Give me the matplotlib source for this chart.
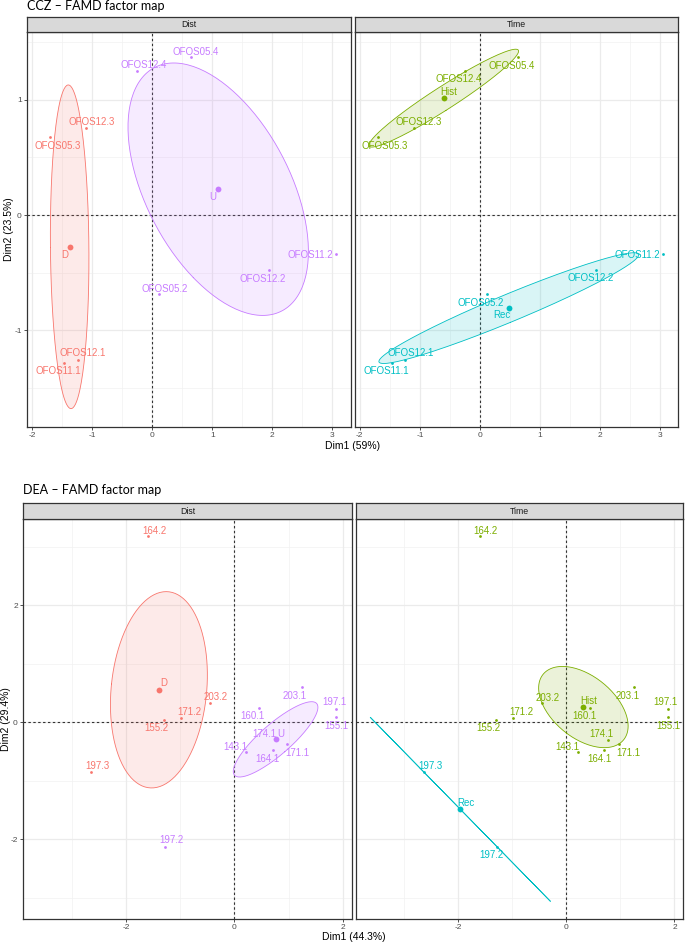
import numpy as np
import matplotlib
matplotlib.use("Agg")
import matplotlib.pyplot as plt

# ---------------- data ----------------
ccz_labels = ["OFOS05.4", "OFOS12.4", "OFOS12.3", "OFOS05.3", "OFOS11.2",
              "OFOS12.2", "OFOS05.2", "OFOS12.1", "OFOS11.1"]
ccz_dim1 = [0.639, -0.255, -1.098, -1.697, 3.052, 1.937, 0.116, -1.241, -1.464]
ccz_dim2 = [1.367, 1.250, 0.754, 0.679, -0.338, -0.474, -0.687, -1.254, -1.280]
ccz_dist = ["U", "U", "D", "D", "U", "U", "U", "D", "D"]
ccz_time = ["Hist", "Hist", "Hist", "Hist", "Rec", "Rec", "Rec", "Rec", "Rec"]

dea_labels = ["164.2", "203.2", "171.2", "155.2", "197.3", "203.1", "160.1",
              "197.1", "155.1", "174.1", "171.1", "164.1", "143.1", "197.2"]
dea_dim1 = [-1.595, -0.446, -0.977, -1.297, -2.636, 1.247, 0.449,
            1.874, 1.880, 0.772, 0.975, 0.707, 0.221, -1.276]
dea_dim2 = [3.18, 0.330, 0.080, 0.034, -0.845, 0.598, 0.251,
            0.234, 0.091, -0.299, -0.379, -0.476, -0.513, -2.13]
dea_dist = ["D", "D", "D", "D", "D", "U", "U", "U", "U", "U", "U", "U", "U", "U"]
dea_time = ["Hist", "Hist", "Hist", "Hist", "Rec", "Hist", "Hist",
            "Hist", "Hist", "Hist", "Hist", "Hist", "Hist", "Rec"]

group_colors = {"D": "#F8766D", "U": "#C77CFF", "Hist": "#7CAE00", "Rec": "#00BFC4"}

# label offsets (pixels: right, down) for repelled text
off_ccz_dist = {"OFOS05.4": (5.3, -5), "OFOS12.4": (6.3, -5.7), "OFOS12.3": (5.3, -5.7),
                "OFOS05.3": (7, 9), "OFOS11.2": (-25.7, 1), "OFOS12.2": (-6, 9.3),
                "OFOS05.2": (5.3, -5.7), "OFOS12.1": (5, -6.7), "OFOS11.1": (-6, 8),
                "D": (-5.3, 8), "U": (-5.7, 7.3)}
off_ccz_time = {"OFOS05.4": (-6.7, 9), "OFOS12.4": (-6.3, 8.3), "OFOS12.3": (5, -5.7),
                "OFOS05.3": (6.7, 9), "OFOS11.2": (-26, 1), "OFOS12.2": (-6, 8.7),
                "OFOS05.2": (-6.3, 8.7), "OFOS12.1": (5.3, -6.3), "OFOS11.1": (-5.7, 8),
                "Hist": (5.3, -5.7), "Rec": (-6.7, 7.3)}
off_dea_dist = {"164.2": (6.3, -5.7), "203.2": (6, -5.7), "171.2": (8, -5.7),
                "155.2": (-7.3, 8), "197.3": (5.7, -5.7), "203.1": (-7, 9),
                "160.1": (-6, 8.3), "197.1": (-1.3, -6.3), "155.1": (-0.3, 9.3),
                "174.1": (-11.5, -5.7), "171.1": (10, 8.3), "164.1": (-5.3, 8.7),
                "143.1": (-11.3, -5.7), "197.2": (6, -6.7), "D": (4.7, -7), "U": (5.5, -5.7)}
off_dea_time = {"164.2": (5.7, -5.7), "203.2": (5.7, -5.3), "171.2": (8.3, -5.7),
                "155.2": (-8, 8), "197.3": (7.3, -5.7), "203.1": (-6.3, 8.3),
                "160.1": (-5.7, 8.3), "197.1": (-2, -6.3), "155.1": (0, 9.3),
                "174.1": (-6.3, -6), "171.1": (9.3, 8.7), "164.1": (-5.3, 9),
                "143.1": (-10.7, -5.7), "197.2": (-5.3, 8), "Hist": (5.3, -5.7), "Rec": (6, -6)}

# ---------------- layout ----------------
W, H = 685, 944
fig = plt.figure(figsize=(W / 100, H / 100), dpi=100)
FONT = ["Liberation Sans", "DejaVu Sans"]
plt.rcParams["font.family"] = FONT


def rect(l, t, r, b):
    return [l / W, 1 - b / H, (r - l) / W, (b - t) / H]


CHI = np.sqrt(5.991)  # 95% chi-square, 2 dof


def conf_ellipse(x, y):
    x = np.asarray(x); y = np.asarray(y)
    n = len(x)
    cov = np.cov(x, y) / n
    vals, vecs = np.linalg.eigh(cov)
    vals = np.clip(vals, 0, None)
    t = np.linspace(0, 2 * np.pi, 200)
    circ = np.vstack([np.cos(t), np.sin(t)])
    pts = vecs @ (CHI * np.sqrt(vals)[:, None] * circ)
    return x.mean() + pts[0], y.mean() + pts[1]


def draw_panel(ax, labels, d1, d2, groups, order, offsets, xlim, ylim,
               xmaj, xmin_, ymaj, ymin_, show_y):
    ax.set_xlim(*xlim); ax.set_ylim(*ylim)
    for v in xmin_:
        ax.axvline(v, color="#F2F2F2", lw=0.5, zorder=0)
    for v in ymin_:
        ax.axhline(v, color="#F2F2F2", lw=0.5, zorder=0)
    for v in xmaj:
        ax.axvline(v, color="#EBEBEB", lw=0.9, zorder=0)
    for v in ymaj:
        ax.axhline(v, color="#EBEBEB", lw=0.9, zorder=0)
    ax.axvline(0, color="#333333", lw=0.8, ls=(0, (2.2, 2.2)), zorder=1)
    ax.axhline(0, color="#333333", lw=0.8, ls=(0, (2.2, 2.2)), zorder=1)
    d1 = np.asarray(d1); d2 = np.asarray(d2); groups = np.asarray(groups)
    for g in order:
        m = groups == g
        c = group_colors[g]
        ex, ey = conf_ellipse(d1[m], d2[m])
        ax.fill(ex, ey, facecolor=c, alpha=0.15, edgecolor="none", zorder=2)
        ax.plot(ex, ey, color=c, lw=0.6, zorder=3)
        ax.plot(d1[m], d2[m], "o", color=c, ms=2.0, mew=0, zorder=4)
        cx, cy = d1[m].mean(), d2[m].mean()
        ax.plot([cx], [cy], "o", color=c, ms=4.2, mew=0, zorder=5)
        ox, oy = offsets[g]
        ax.annotate(g, (cx, cy), xytext=(ox * 0.72, -oy * 0.72),
                    textcoords="offset points", ha="center", va="center",
                    color=c, fontsize=7, zorder=6)
        for lab, xx, yy in zip(np.asarray(labels)[m], d1[m], d2[m]):
            ox, oy = offsets[lab]
            ax.annotate(lab, (xx, yy), xytext=(ox * 0.72, -oy * 0.72),
                        textcoords="offset points", ha="center", va="center",
                        color=c, fontsize=7, zorder=6)
    ax.set_xticks(xmaj)
    ax.set_xticklabels([f"{v:g}" for v in xmaj])
    ax.tick_params(axis="both", colors="#333333", labelcolor="#4D4D4D",
                   labelsize=6, length=2.5, width=0.6, pad=1.5)
    if show_y:
        ax.set_yticks(ymaj)
        ax.set_yticklabels([f"{v:g}" for v in ymaj])
    else:
        ax.set_yticks([])
    for s in ax.spines.values():
        s.set_color("#333333"); s.set_linewidth(0.9)


def strip(l, t, r, b, text):
    sa = fig.add_axes(rect(l, t, r, b))
    sa.set_facecolor("#D9D9D9")
    sa.set_xticks([]); sa.set_yticks([])
    for s in sa.spines.values():
        s.set_color("#333333"); s.set_linewidth(0.9)
    sa.text(0.5, 0.5, text, ha="center", va="center", fontsize=6.3, color="#1A1A1A",
            transform=sa.transAxes)


# ---------------- top chart (CCZ) ----------------
fig.text(27 / W, 1 - 6.5 / H, "CCZ \u2013 FAMD factor map", fontsize=9,
         family=["Lato", "DejaVu Sans"], ha="left", va="center")
tx_lim = (-2.08, 3.30); ty_lim = (-1.834, 1.583)
tx_maj = [-2, -1, 0, 1, 2, 3]; tx_min = [-1.5, -0.5, 0.5, 1.5, 2.5]
ty_maj = [-1, 0, 1]; ty_min = [-1.5, -0.5, 0.5, 1.5]

ax1 = fig.add_axes(rect(27.3, 32.3, 350.5, 426.7))
draw_panel(ax1, ccz_labels, ccz_dim1, ccz_dim2, ccz_dist, ["D", "U"], off_ccz_dist,
           tx_lim, ty_lim, tx_maj, tx_min, ty_maj, ty_min, True)
ax2 = fig.add_axes(rect(355, 32.3, 678.3, 426.7))
draw_panel(ax2, ccz_labels, ccz_dim1, ccz_dim2, ccz_time, ["Hist", "Rec"], off_ccz_time,
           tx_lim, ty_lim, tx_maj, tx_min, ty_maj, ty_min, False)
strip(27.3, 16.7, 350.5, 32.3, "Dist")
strip(355, 16.7, 678.3, 32.3, "Time")
fig.text(353 / W, 1 - 446 / H, "Dim1 (59%)", fontsize=7.5, ha="center", va="center")
fig.text(9 / W, 1 - 229.5 / H, "Dim2 (23.5%)", fontsize=7.5, ha="center", va="center",
         rotation=90)

# ---------------- bottom chart (DEA) ----------------
fig.text(23 / W, 1 - 490.5 / H, "DEA \u2013 FAMD factor map", fontsize=9,
         family=["Lato", "DejaVu Sans"], ha="left", va="center")
bx_lim = (-3.89, 2.164); by_lim = (-3.357, 3.47)
bx_maj = [-2, 0, 2]; bx_min = [-3, -1, 1]
by_maj = [-2, 0, 2]; by_min = [-3, -1, 1, 3]

ax3 = fig.add_axes(rect(23.3, 519.3, 351.7, 918.7))
draw_panel(ax3, dea_labels, dea_dim1, dea_dim2, dea_dist, ["D", "U"], off_dea_dist,
           bx_lim, by_lim, bx_maj, bx_min, by_maj, by_min, True)
ax4 = fig.add_axes(rect(355.7, 519.3, 683.3, 918.7))
draw_panel(ax4, dea_labels, dea_dim1, dea_dim2, dea_time, ["Hist", "Rec"], off_dea_time,
           bx_lim, by_lim, bx_maj, bx_min, by_maj, by_min, False)
strip(23.3, 503.3, 351.7, 519.3, "Dist")
strip(355.7, 503.3, 683.3, 519.3, "Time")
fig.text(354 / W, 1 - 937 / H, "Dim1 (44.3%)", fontsize=7.5, ha="center", va="center")
fig.text(6 / W, 1 - 719 / H, "Dim2 (29.4%)", fontsize=7.5, ha="center", va="center",
         rotation=90)

fig.savefig("out.png", dpi=100, facecolor="white")
